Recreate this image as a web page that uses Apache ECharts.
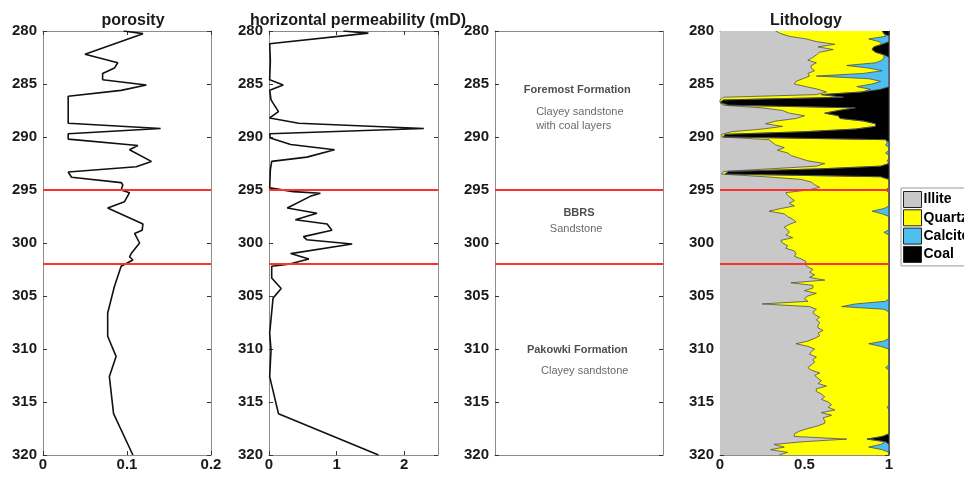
<!DOCTYPE html>
<html>
<head>
<meta charset="utf-8">
<script src="https://cdn.jsdelivr.net/npm/echarts@6/dist/echarts.min.js"></script>
<style>
  html, body { margin: 0; padding: 0; background: #fff; }
  #chart { width: 964px; height: 479px; }
</style>
</head>
<body>
<div id="chart"></div>
<script>
// porosity log (depth in m, fraction)
const porDepth = [280.0, 280.25, 282.2, 283.0, 283.5, 284.0, 284.6, 285.1, 285.6, 286.15,
  288.7, 289.2, 289.7, 290.2, 290.8, 291.2, 292.3, 292.8, 293.3, 293.8,
  294.3, 294.5, 295.0, 295.25, 296.1, 296.7, 298.2, 298.8, 299.1, 300.0,
  301.0, 301.3, 301.6, 302.2, 304.1, 306.6, 308.8, 310.7, 312.6, 316.1, 320.0]
const porValue = [0.096, 0.119, 0.050, 0.089, 0.085, 0.071, 0.071, 0.123, 0.093, 0.030,
  0.030, 0.140, 0.030, 0.030, 0.113, 0.103, 0.129, 0.111, 0.030, 0.034,
  0.093, 0.095, 0.093, 0.103, 0.097, 0.077, 0.119, 0.118, 0.109, 0.115,
  0.105, 0.103, 0.107, 0.093, 0.085, 0.077, 0.077, 0.087, 0.079, 0.084, 0.107]

// horizontal permeability (mD)
const permDepth = [280.0, 280.2, 281.2, 282.8, 284.6, 285.1, 285.6, 286.5, 287.6, 288.2,
  288.7, 289.2, 289.7, 290.1, 290.7, 291.2, 291.9, 292.3, 293.1, 294.8,
  295.15, 295.3, 295.6, 296.7, 297.2, 297.8, 298.2, 298.8, 299.4, 299.7,
  300.1, 301.0, 301.5, 302.0, 302.2, 303.3, 304.3, 305.2, 308.5, 310.1, 312.6, 316.1, 320.0]
const permValue = [1.10, 1.47, 0.01, 0.02, 0.01, 0.21, 0.01, 0.03, 0.14, 0.01,
  0.44, 2.29, 0.01, 0.02, 0.32, 0.97, 0.56, 0.04, 0.02, 0.01,
  0.36, 0.76, 0.61, 0.27, 0.71, 0.39, 0.86, 0.93, 0.51, 0.56,
  1.23, 0.32, 0.59, 0.29, 0.04, 0.04, 0.18, 0.06, 0.01, 0.03, 0.01, 0.14, 1.62]

// lithology fractions, one sample every 0.25 m from 280 to 320 m
const lithDepth = []
for (let i = 0; i <= 160; i++) lithDepth.push(280 + i * 0.25)
const illite = [
  .33, .36, .41, .51, .57, .68, .58, .67,  .59, .57, .55, .52, .57, .54, .54, .56,
  .52, .53, .49, .45, .44, .51, .58, .63,  .57, .02, .00, .00, .02, .25, .37, .41,
  .50, .45, .33, .27, .37, .25, .07, .01,  .01, .29, .31, .33, .38, .34, .40, .42,
  .47, .52, .62, .57, .30, .02, .01, .27,  .48, .54, .56, .59, .52, .39, .40, .42,
  .44, .41, .44, .36, .29, .38, .40, .43,  .45, .41, .38, .40, .41, .39, .43, .36,
  .37, .40, .39, .44, .45, .44, .48, .51,  .50, .52, .55, .53, .56, .53, .62, .42,
  .55, .55, .50, .57, .52, .50, .52, .25,  .53, .57, .55, .56, .59, .57, .59, .58,
  .58, .61, .58, .59, .56, .52, .45, .52,  .56, .54, .53, .57, .55, .56, .54, .52,
  .54, .59, .56, .58, .60, .58, .63, .57,  .57, .60, .62, .60, .64, .66, .64, .68,
  .60, .66, .61, .62, .62, .58, .52, .47,  .44, .44, .75, .49, .32, .38, .30, .40,
  .35]
const quartz = [
  .63, .61, .57, .37, .37, .28, .33, .23,  .33, .40, .42, .44, .35, .21, .34, .40,
  .33, .04, .39, .50, .46, .30, .31, .21,  .03, .71, .02, .00, .03, .55, .33, .21,
  .20, .26, .52, .65, .55, .55, .43, .02,  .01, .69, .68, .65, .62, .66, .58, .58,
  .53, .47, .38, .38, .30, .03, .02, .68,  .52, .46, .44, .41, .46, .61, .60, .58,
  .56, .59, .56, .61, .61, .58, .60, .57,  .55, .59, .62, .60, .56, .61, .57, .64,
  .63, .60, .61, .56, .55, .56, .52, .49,  .50, .48, .45, .47, .44, .47, .38, .58,
  .45, .45, .50, .43, .48, .50, .46, .55,  .19, .40, .45, .44, .41, .43, .41, .42,
  .42, .39, .42, .41, .44, .45, .43, .43,  .44, .46, .47, .43, .45, .44, .46, .46,
  .46, .41, .44, .42, .40, .42, .37, .43,  .43, .40, .38, .40, .36, .34, .35, .32,
  .40, .34, .39, .38, .38, .42, .48, .53,  .56, .52, .12, .49, .63, .50, .66, .60,
  .65]
const calcite = [
  0, 0, .02, .12, .06, 0, 0, 0,  0, 0, .03, .04, .08, .25, .12, .04,
  .15, .43, .12, .05, .10, .19, .06, 0,  0, 0, 0, 0, 0, 0, 0, 0,
  0, 0, 0, 0, 0, 0, 0, 0,  0, 0, .01, .02, 0, 0, .02, 0,
  0, .01, 0, 0, 0, 0, 0, 0,  0, 0, 0, 0, .02, 0, 0, 0,
  0, 0, 0, .03, .10, .04, 0, 0,  0, 0, 0, 0, .03, 0, 0, 0,
  0, 0, 0, 0, 0, 0, 0, 0,  0, 0, 0, 0, 0, 0, 0, 0,
  0, 0, 0, 0, 0, 0, .02, .20,  .28, .03, 0, 0, 0, 0, 0, 0,
  0, 0, 0, 0, 0, .03, .12, .05,  0, 0, 0, 0, 0, 0, 0, .02,
  0, 0, 0, 0, 0, 0, 0, 0,  0, 0, 0, 0, 0, 0, .01, 0,
  0, 0, 0, 0, 0, 0, 0, 0,  0, 0, 0, 0, .05, .12, .04, 0,
  0]
const coal = [
  .04, .03, 0, 0, 0, .04, .09, .10,  .08, .03, 0, 0, 0, 0, 0, 0,
  0, 0, 0, 0, 0, 0, .05, .16,  .40, .27, .98, 1, .95, .20, .30, .38,
  .30, .29, .15, .08, .08, .20, .50, .97,  .98, .02, 0, 0, 0, 0, 0, 0,
  0, 0, 0, .05, .40, .95, .97, .05,  0, 0, 0, 0, 0, 0, 0, 0,
  0, 0, 0, 0, 0, 0, 0, 0,  0, 0, 0, 0, 0, 0, 0, 0,
  0, 0, 0, 0, 0, 0, 0, 0,  0, 0, 0, 0, 0, 0, 0, 0,
  0, 0, 0, 0, 0, 0, 0, 0,  0, 0, 0, 0, 0, 0, 0, 0,
  0, 0, 0, 0, 0, 0, 0, 0,  0, 0, 0, 0, 0, 0, 0, 0,
  0, 0, 0, 0, 0, 0, 0, 0,  0, 0, 0, 0, 0, 0, 0, 0,
  0, 0, 0, 0, 0, 0, 0, 0,  0, .04, .13, .02, 0, 0, 0, 0,
  0]
const lithNames = ['Illite', 'Quartz', 'Calcite', 'Coal']
const lithColors = ['#c8c8c8', '#ffff00', '#4dbeee', '#000000']

// formation boundaries (m)
const boundaries = [295, 302]

// formation notes in the third track
const noteText = ['Foremost Formation', 'Clayey sandstone', 'with coal layers', 'BBRS', 'Sandstone', 'Pakowki Formation', 'Clayey sandstone']
const noteDepth = [285.55, 287.6, 288.98, 297.15, 298.7, 310.08, 312.05]
const noteX = [0.49, 0.245, 0.245, 0.5, 0.483, 0.49, 0.534]
const noteBold = [true, false, false, true, false, true, false]
const noteAlign = ['center', 'left', 'left', 'center', 'center', 'center', 'center']

const FONT = '"Liberation Sans", Arial, sans-serif'
const TOP = 31, HEIGHT = 424

const panels = [
  { left: 43, width: 168, title: 'porosity', titleX: 128, max: 0.2, interval: 0.1 },
  { left: 269, width: 169, title: 'horizontal permeability (mD)', titleX: 353, max: 2.5, interval: 1, hideMax: true },
  { left: 495, width: 168, title: '', max: 1, interval: 1, noX: true },
  { left: 720, width: 169, title: 'Lithology', titleX: 801, max: 1, interval: 0.5, category: true }
]

const frameLine = { show: true, onZero: false, lineStyle: { color: '#8c8c8c', width: 1 } }
const tickStyle = { color: '#333', width: 1 }
const labelStyle = { fontFamily: FONT, fontWeight: 'bold', fontSize: 15, color: '#1a1a1a' }

const grid = [], xAxis = [], yAxis = [], title = []
panels.forEach((p, i) => {
  grid.push({
    left: p.left, top: TOP, width: p.width, height: HEIGHT,
    outerBoundsMode: 'none'
  })
  if (p.title) {
    title.push({
      text: p.title, left: p.titleX, top: 8, textAlign: 'center',
      textStyle: { fontFamily: FONT, fontWeight: 'bold', fontSize: 16, color: '#1a1a1a' }
    })
  }
  ;['bottom', 'top'].forEach((pos, k) => xAxis.push({
    type: 'value', gridIndex: i, position: pos,
    min: 0, max: p.max, interval: p.interval,
    axisLine: frameLine, splitLine: { show: false },
    axisTick: { show: !p.noX, inside: true, length: 4, lineStyle: tickStyle },
    axisLabel: Object.assign({ show: !p.noX && k === 0, margin: 2, showMaxLabel: !p.hideMax }, labelStyle)
  }))
  ;['left', 'right'].forEach((pos, k) => {
    const common = {
      gridIndex: i, position: pos, inverse: true,
      axisLine: frameLine, splitLine: { show: false }
    }
    if (p.category) {
      yAxis.push(Object.assign(common, {
        type: 'category', data: lithDepth, boundaryGap: false,
        axisTick: { show: true, inside: true, length: 4, interval: 19, lineStyle: tickStyle },
        axisLabel: Object.assign({ show: k === 0, interval: 19, margin: 6 }, labelStyle)
      }))
    } else {
      yAxis.push(Object.assign(common, {
        type: 'value', min: 280, max: 320, interval: 5,
        axisTick: { show: true, inside: true, length: 4, lineStyle: tickStyle },
        axisLabel: Object.assign({ show: k === 0, margin: 6 }, labelStyle)
      }))
    }
  })
})

const redLines = (coords) => ({
  silent: true, symbol: 'none', z: 10,
  label: { show: false },
  lineStyle: { color: '#ff3030', width: 2, type: 'solid' },
  data: coords.map(v => ({ yAxis: v }))
})

const series = [
  {
    name: 'porosity', type: 'line', xAxisIndex: 0, yAxisIndex: 0,
    data: porDepth.map((d, j) => [porValue[j], d]),
    symbol: 'none', lineStyle: { color: '#111', width: 1.6 },
    markLine: redLines(boundaries)
  },
  {
    name: 'permeability', type: 'line', xAxisIndex: 2, yAxisIndex: 2,
    data: permDepth.map((d, j) => [permValue[j], d]),
    symbol: 'none', lineStyle: { color: '#111', width: 1.6 },
    markLine: redLines(boundaries)
  },
  {
    name: 'notes', type: 'scatter', xAxisIndex: 4, yAxisIndex: 4,
    symbolSize: 0, silent: true,
    data: noteText.map((t, j) => ({
      value: [noteX[j], noteDepth[j]],
      label: {
        show: true, position: 'inside', formatter: t, align: noteAlign[j], verticalAlign: 'middle',
        fontFamily: FONT, fontSize: 11,
        fontWeight: noteBold[j] ? 'bold' : 'normal',
        color: noteBold[j] ? '#222' : '#444'
      }
    })),
    markLine: redLines(boundaries)
  }
]

const lithValues = [illite, quartz, calcite, coal]
lithNames.forEach((name, k) => {
  series.push({
    name: name, type: 'line', xAxisIndex: 6, yAxisIndex: 6, stack: 'lith',
    data: lithValues[k], symbol: 'none', showSymbol: false,
    itemStyle: { color: lithColors[k] },
    lineStyle: { color: '#4a4a4a', width: 0.8 },
    areaStyle: { color: lithColors[k], opacity: 1 },
    markLine: k === 3 ? redLines(boundaries.map(b => lithDepth.indexOf(b))) : undefined
  })
})

const chart = echarts.init(document.getElementById('chart'), null, { renderer: 'canvas' })
chart.setOption({
  animation: false,
  backgroundColor: '#fff',
  title: title,
  grid: grid,
  xAxis: xAxis,
  yAxis: yAxis,
  legend: {
    data: lithNames, orient: 'vertical', left: 901, top: 188,
    icon: 'rect', itemWidth: 18, itemHeight: 16, itemGap: 1.3,
    padding: [3, 6, 3, 2],
    borderColor: '#9a9a9a', borderWidth: 1, backgroundColor: '#fff',
    itemStyle: { borderColor: '#222', borderWidth: 1 },
    textStyle: { fontFamily: FONT, fontWeight: 'bold', fontSize: 14, color: '#000', padding: [0, 0, 0, -3] },
    selectedMode: false
  },
  series: series
})
</script>
</body>
</html>
